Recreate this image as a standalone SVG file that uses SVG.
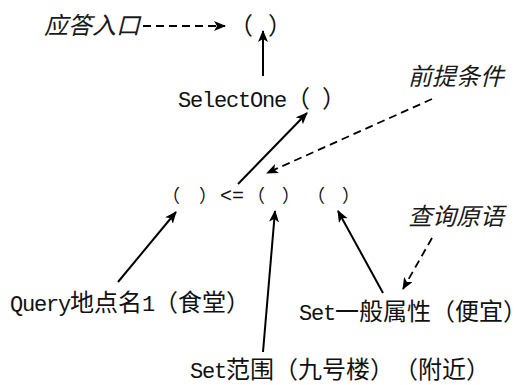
<svg xmlns="http://www.w3.org/2000/svg" width="517" height="385" viewBox="0 0 517 385">
<style>
text{fill:#111;white-space:pre;text-spacing-trim:space-all}
.c{font-family:"Noto Sans CJK SC","Noto Sans",sans-serif;font-size:24px}
.m{font-family:"Liberation Mono",monospace;font-size:22px;letter-spacing:-1.2px}
.i{font-family:"Noto Sans CJK SC",sans-serif;font-size:24px;font-style:italic;fill:#1a1a1a}
.s{font-family:"Noto Sans CJK SC",sans-serif;font-size:18px}
.op{font-family:"Liberation Mono",monospace;font-size:20px}
.solid{stroke:#000;stroke-width:2;fill:none;marker-end:url(#ah)}
.dash{stroke:#000;stroke-width:1.8;fill:none;stroke-dasharray:8 5;marker-end:url(#ah)}
</style>
<defs>
<marker id="ah" markerUnits="userSpaceOnUse" markerWidth="14" markerHeight="12" refX="11" refY="5" orient="auto">
<path d="M0,0 L12,5 L0,10 L3,5 z" fill="#000"/>
</marker>
</defs>
<g id="connectors">
<line class="dash" x1="143" y1="26" x2="225" y2="26"/>
<line class="solid" x1="263" y1="76" x2="263" y2="31"/>
<line class="solid" x1="238" y1="184" x2="307" y2="113"/>
<line class="dash" x1="432" y1="99" x2="267" y2="173"/>
<line class="solid" x1="118" y1="282" x2="176" y2="212"/>
<line class="solid" x1="263" y1="352" x2="275" y2="211"/>
<line class="solid" x1="383" y1="293" x2="338" y2="211"/>
<line class="dash" x1="432" y1="238" x2="403" y2="289"/>
</g>
<g id="entry-label"><text class="i" x="44" y="34">应答入口</text></g>
<g id="answer-slot"><text class="c" y="34"><tspan x="229">（</tspan><tspan x="268">）</tspan></text></g>
<g id="selectone"><text x="178" y="107"><tspan class="m">SelectOne</tspan><tspan class="c">（</tspan><tspan class="m">&#160;</tspan><tspan class="c">）</tspan></text></g>
<g id="premise-label"><text class="i" x="408" y="85">前提条件</text></g>
<g id="condition-row"><text y="202"><tspan class="s" x="162">（</tspan><tspan class="s" x="199">）</tspan><tspan class="op" x="220">&lt;=</tspan><tspan class="s" x="247">（</tspan><tspan class="s" x="282">）</tspan><tspan class="s" x="307">（</tspan><tspan class="s" x="342">）</tspan></text></g>
<g id="query-label"><text class="i" x="408" y="225">查询原语</text></g>
<g id="query-place"><text x="10" y="311"><tspan class="m">Query</tspan><tspan class="c">地点名</tspan><tspan class="m">1</tspan><tspan class="c">（食堂）</tspan></text></g>
<g id="set-attr"><text x="299" y="320"><tspan class="m">Set</tspan><tspan class="c">一般属性（便宜</tspan><tspan class="c" style="letter-spacing:-12px">）</tspan></text></g>
<g id="set-range"><text y="378"><tspan class="m" x="190">Set</tspan><tspan class="c">范围（九号楼）</tspan><tspan class="c" x="394">（附近）</tspan></text></g>
</svg>
